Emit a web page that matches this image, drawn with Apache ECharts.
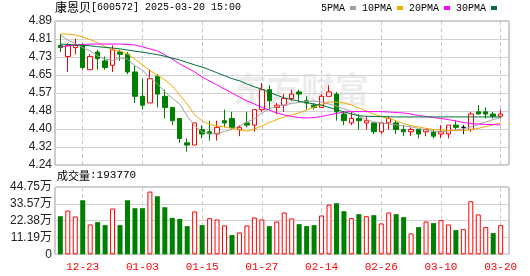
<!DOCTYPE html>
<html><head><meta charset="utf-8">
<script src="https://cdn.jsdelivr.net/npm/echarts@6/dist/echarts.min.js"></script>
<style>html,body{margin:0;padding:0;background:#fff}#c{width:530px;height:276px}</style>
</head><body><div id="c"></div>
<script>
// ---- header text ----
const stockName = '康恩贝';
const stockCode = '600572';
const stamp = '2025-03-20 15:00';
const lastVolume = 193770;

// ---- categories ----
const dates = ['12-18','12-19','12-20','12-23','12-24','12-25','12-26','12-27','12-30','12-31',
 '01-02','01-03','01-06','01-07','01-08','01-09','01-10','01-13','01-14','01-15',
 '01-16','01-17','01-20','01-21','01-22','01-23','01-24','01-27','02-05','02-06',
 '02-07','02-10','02-11','02-12','02-13','02-14','02-17','02-18','02-19','02-20',
 '02-21','02-24','02-25','02-26','02-27','02-28','03-03','03-04','03-05','03-06',
 '03-07','03-10','03-11','03-12','03-13','03-14','03-17','03-18','03-19','03-20'];
const labelDates = ['12-23','01-03','01-15','01-27','02-14','02-26','03-10','03-20'];

// ---- K-line values ----
const open = [4.78,4.73,4.77,4.78,4.67,4.75,4.71,4.69,4.75,4.74, 4.66,4.55,4.52,4.64,4.55,4.50,4.45,4.34,4.33,4.40,
 4.39,4.38,4.44,4.45,4.40,4.43,4.42,4.49,4.58,4.50, 4.51,4.54,4.57,4.53,4.51,4.50,4.55,4.56,4.47,4.43,
 4.45,4.43,4.43,4.39,4.43,4.43,4.40,4.39,4.40,4.39, 4.39,4.38,4.38,4.42,4.41,4.40,4.48,4.48,4.47,4.46];
const close = [4.77,4.78,4.78,4.68,4.73,4.72,4.68,4.76,4.74,4.66, 4.55,4.51,4.63,4.56,4.50,4.44,4.36,4.33,4.43,4.38,
 4.38,4.41,4.43,4.41,4.41,4.42,4.49,4.58,4.53,4.51, 4.54,4.56,4.56,4.52,4.50,4.55,4.57,4.48,4.44,4.45,
 4.44,4.44,4.39,4.43,4.45,4.40,4.39,4.40,4.38,4.40, 4.37,4.39,4.42,4.41,4.41,4.47,4.47,4.47,4.46,4.47];
const low = [4.75,4.66,4.74,4.67,4.67,4.67,4.67,4.66,4.71,4.65, 4.52,4.49,4.52,4.50,4.45,4.42,4.34,4.30,4.33,4.36,
 4.35,4.35,4.41,4.40,4.37,4.41,4.39,4.48,4.49,4.47, 4.48,4.53,4.52,4.49,4.49,4.50,4.55,4.44,4.42,4.42,
 4.40,4.40,4.38,4.38,4.40,4.38,4.37,4.37,4.36,4.37, 4.36,4.36,4.36,4.40,4.38,4.39,4.47,4.45,4.45,4.45];
const high = [4.83,4.79,4.81,4.79,4.74,4.76,4.73,4.78,4.76,4.75, 4.69,4.63,4.67,4.65,4.58,4.50,4.45,4.36,4.43,4.42,
 4.44,4.44,4.49,4.48,4.42,4.48,4.49,4.61,4.60,4.52, 4.56,4.58,4.58,4.55,4.52,4.56,4.60,4.57,4.48,4.48,
 4.47,4.46,4.43,4.43,4.46,4.44,4.42,4.41,4.40,4.40, 4.40,4.42,4.42,4.44,4.42,4.48,4.51,4.50,4.48,4.49];

// ---- moving averages ----
const ma5 = [4.827,4.804,4.788,4.770,4.755,4.732,4.718,4.712,4.723,4.718, 4.687,4.669,4.633,4.606,4.570,4.542,4.515,4.461,4.416,4.389,
 4.380,4.384,4.391,4.402,4.416,4.434,4.448,4.475,4.493,4.504, 4.511,4.518,4.522,4.527,4.529,4.524,4.515,4.506,4.493,4.481,
 4.461,4.445,4.435,4.430,4.425,4.421,4.416,4.413,4.405,4.398, 4.391,4.389,4.394,4.398,4.403,4.412,4.423,4.434,4.445,4.454];
const ma10 = [4.831,4.831,4.827,4.818,4.806,4.791,4.775,4.761,4.755,4.741, 4.718,4.691,4.667,4.646,4.624,4.597,4.556,4.515,4.466,4.439,
 4.423,4.416,4.412,4.405,4.398,4.393,4.402,4.416,4.432,4.445, 4.457,4.466,4.475,4.488,4.502,4.513,4.524,4.524,4.520,4.511,
 4.497,4.484,4.470,4.459,4.450,4.439,4.427,4.418,4.412,4.405, 4.400,4.398,4.396,4.395,4.395,4.400,4.405,4.414,4.421,4.430];
const ma20 = [4.773,4.777,4.782,4.784,4.786,4.786,4.786,4.786,4.786,4.784, 4.782,4.773,4.764,4.755,4.737,4.718,4.696,4.678,4.660,4.637,
 4.619,4.601,4.583,4.565,4.547,4.529,4.515,4.500,4.488,4.475, 4.466,4.459,4.454,4.452,4.454,4.459,4.466,4.473,4.479,4.481,
 4.481,4.481,4.481,4.481,4.479,4.477,4.475,4.470,4.463,4.459, 4.454,4.450,4.445,4.439,4.432,4.427,4.425,4.423,4.423,4.421];
const ma30 = [4.786,4.784,4.782,4.780,4.778,4.774,4.771,4.768,4.764,4.759, 4.754,4.749,4.744,4.738,4.731,4.722,4.714,4.703,4.692,4.682,
 4.670,4.656,4.643,4.630,4.620,4.606,4.593,4.582,4.568,4.555, 4.543,4.535,4.528,4.521,4.515,4.510,4.500,4.490,4.480,4.470,
 4.462,4.460,4.459,4.458,4.458,4.457,4.457,4.457,4.457,4.457, 4.457,4.457,4.457,4.457,4.457,4.457,4.457,4.457,4.457,4.457];

// ---- volume ----
const vol = [253500,291300,251500,359500,198600,213800,194000,304500,194000,359500,
 306500,306500,417000,386000,313100,242300,235000,187300,284700,194000,
 240300,231700,192000,127800,145600,192000,244900,231700,187300,218500,
 278000,238300,200600,187300,194000,258200,331000,339600,286600,240300,
 266800,253500,260200,205200,278000,266800,246900,139000,180700,218500,
 207200,227100,198600,160900,167500,352800,264800,180700,141000,193770];
const volUp = [0,1,1,0,1,0,0,1,0,0, 0,0,1,0,0,0,0,0,1,0, 1,1,1,0,1,1,1,1,0,1,
 1,1,0,0,0,1,1,0,0,1, 0,1,0,1,1,0,0,1,0,1, 0,1,1,0,1,1,1,1,0,1];

// ---- tick labels ----
const priceTicks = ['4.24','4.32','4.40','4.48','4.57','4.65','4.73','4.81','4.89'];
const priceMin = 4.24, priceMax = 4.89;
const volTicks = ['0','11.19万','22.38万','33.57万','44.75万'];
const volMax = 447500;

const RED = '#ff0000', GREEN = '#008000';
const FRAME_L = 55, FRAME_W = 454, DATA_L = 56.6, DATA_W = 447.8;
const P_TOP = 21, P_H = 144, V_TOP = 187, V_H = 67.3;

const candleData = dates.map((d, i) => [open[i], close[i], low[i], high[i]]);
const volData = vol.map((v, i) => ({
  value: v,
  itemStyle: volUp[i] ? { color: '#fff', borderColor: RED, borderWidth: 1 }
                      : { color: GREEN, borderColor: GREEN, borderWidth: 0 }
}));
const labelIdx = labelDates.map(d => dates.indexOf(d));
const vline = () => ({
  silent: true, symbol: ['none', 'none'], z: 1, animation: false,
  label: { show: false },
  lineStyle: { color: '#c8c8c8', type: [4, 3], width: 1 },
  data: labelDates.map(d => ({ xAxis: d }))
});

const chart = echarts.init(document.getElementById('c'));
const maLine = (name, data, color) => ({
  name, type: 'line', xAxisIndex: 1, yAxisIndex: 1, data, symbol: 'none', showSymbol: false,
  z: 3, lineStyle: { width: 1, color }, itemStyle: { color }, animation: false
});

chart.setOption({
  animation: false,
  title: [
    { left: 55, top: 1, padding: 0,
      text: '{a|' + stockName + '}{b|[' + stockCode + '] ' + stamp + '}',
      textStyle: { fontWeight: 'normal', rich: {
        a: { fontFamily: '"Noto Sans CJK SC"', fontSize: 12, fontWeight: 'normal', color: '#000' },
        b: { fontFamily: '"Liberation Mono"', fontSize: 10, fontWeight: 'normal', color: '#000' } } } },
    { left: 57, top: 170, padding: 0,
      text: '{a|成交量}{b|:' + lastVolume + '}',
      textStyle: { fontWeight: 'normal', rich: {
        a: { fontFamily: '"Noto Sans CJK SC"', fontSize: 11, fontWeight: 'normal', color: '#000' },
        b: { fontFamily: '"Liberation Mono"', fontSize: 11, fontWeight: 'normal', color: '#000' } } } }
  ],
  legend: {
    left: 321, top: 3, padding: 0, icon: 'rect', itemWidth: 6, itemHeight: 4, itemGap: 6,
    align: 'right', selectedMode: false,
    textStyle: { fontFamily: '"Liberation Mono"', fontSize: 10, color: '#000' },
    data: ['5PMA', '10PMA', '20PMA', '30PMA']
  },
  graphic: [{
    type: 'text', left: 233, top: 72, z: 0, silent: true,
    style: { text: '东方财富', font: 'bold 34px "Noto Sans CJK SC"', fill: 'rgba(0,0,0,0.075)' }
  }],
  grid: [
    { left: FRAME_L, top: P_TOP, width: FRAME_W, height: P_H, show: true, borderColor: '#999', borderWidth: 1, backgroundColor: 'transparent' },
    { left: DATA_L, top: P_TOP, width: DATA_W, height: P_H },
    { left: FRAME_L, top: V_TOP, width: FRAME_W, height: V_H, show: true, borderColor: '#999', borderWidth: 1, backgroundColor: 'transparent' },
    { left: DATA_L, top: V_TOP, width: DATA_W, height: V_H }
  ],
  xAxis: [
    { gridIndex: 0, type: 'value', min: 0, max: 1, show: false },
    { gridIndex: 1, type: 'category', data: dates, boundaryGap: true,
      axisLine: { show: false }, axisTick: { show: false }, axisLabel: { show: false }, splitLine: { show: false } },
    { gridIndex: 2, type: 'value', min: 0, max: 1, show: false },
    { gridIndex: 3, type: 'category', data: dates, boundaryGap: true,
      axisLine: { show: false }, axisTick: { show: false }, splitLine: { show: false },
      axisLabel: { interval: (i) => labelIdx.includes(i), color: RED, fontFamily: '"Liberation Mono"', fontSize: 11, margin: 7 } }
  ],
  yAxis: [
    { gridIndex: 0, type: 'value', min: 0, max: priceTicks.length - 1, interval: 1,
      axisLine: { show: false }, axisTick: { show: false },
      axisLabel: { formatter: (v) => priceTicks[Math.round(v)], color: '#222', fontSize: 12, fontFamily: '"Liberation Sans"', margin: 3 },
      splitLine: { lineStyle: { color: '#d2d2d2', width: 1 } } },
    { gridIndex: 1, type: 'value', min: priceMin, max: priceMax, show: false, splitLine: { show: false } },
    { gridIndex: 2, type: 'value', min: 0, max: volMax, interval: volMax / (volTicks.length - 1),
      axisLine: { show: false }, axisTick: { show: false },
      axisLabel: { formatter: (v) => volTicks[Math.round(v / (volMax / (volTicks.length - 1)))], color: '#222', fontSize: 12, fontFamily: '"Liberation Sans", "Noto Sans CJK SC"', margin: 3 },
      splitLine: { lineStyle: { color: '#d2d2d2', width: 1 } } },
    { gridIndex: 3, type: 'value', min: 0, max: volMax, show: false, splitLine: { show: false } }
  ],
  series: [
    { name: 'K', type: 'candlestick', xAxisIndex: 1, yAxisIndex: 1, data: candleData, barWidth: 5, z: 2,
      itemStyle: { color: '#fff', color0: GREEN, borderColor: RED, borderColor0: GREEN, borderColorDoji: '#000', borderWidth: 1 },
      markLine: vline() },
    maLine('5PMA', ma5, '#a0a0a0'),
    maLine('10PMA', ma10, '#f2a900'),
    maLine('20PMA', ma20, '#ff00ff'),
    maLine('30PMA', ma30, '#00703a'),
    { name: 'VOL', type: 'bar', xAxisIndex: 3, yAxisIndex: 3, data: volData, barWidth: 5, z: 2,
      markLine: vline() }
  ]
});
</script></body></html>
